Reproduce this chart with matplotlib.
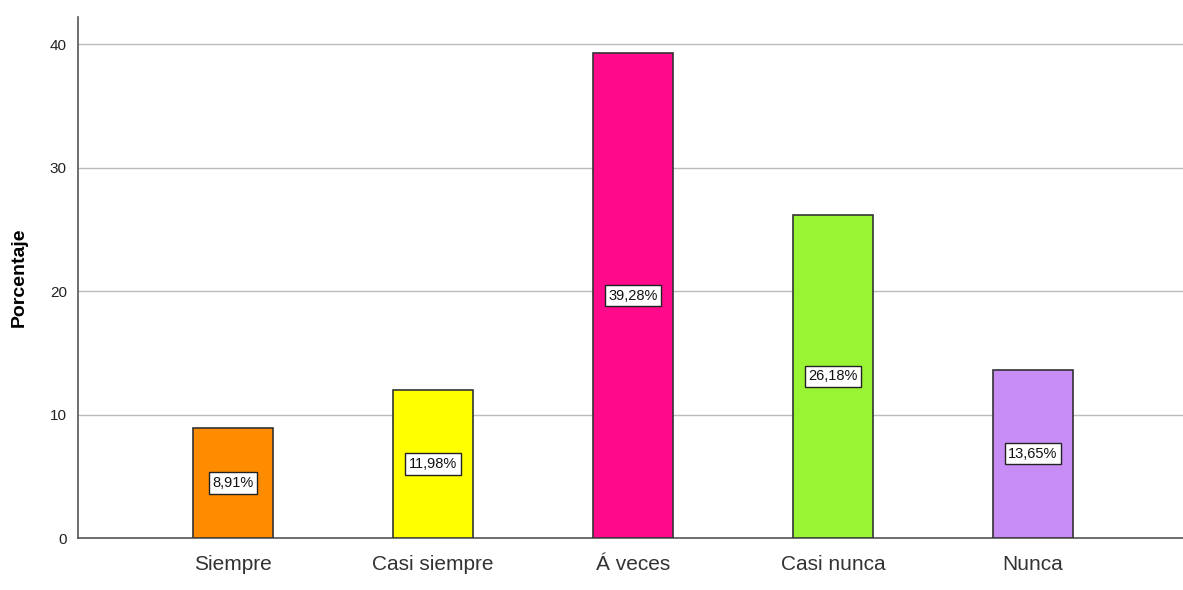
import matplotlib
matplotlib.use("Agg")
import matplotlib.pyplot as plt

categories = ["Siempre", "Casi siempre", "Á veces", "Casi nunca", "Nunca"]
values = [8.91, 11.98, 39.28, 26.18, 13.65]
labels = ["8,91%", "11,98%", "39,28%", "26,18%", "13,65%"]
colors = ["#FF8C00", "#FFFF00", "#FF0A8A", "#99F533", "#C88CF5"]
yticks = [0, 10, 20, 30, 40]

plt.rcParams['font.family'] = ['Liberation Sans', 'DejaVu Sans']

fig = plt.figure(figsize=(11.83, 5.90), dpi=100)
ax = fig.add_axes([0.0659, 0.088, 0.934, 0.883])

x = list(range(len(categories)))
ax.bar(x, values, width=0.4, color=colors, edgecolor="#333333", linewidth=1.2, zorder=3)

for xi, v, lab in zip(x, values, labels):
    ax.text(xi, v / 2, lab, ha="center", va="center", fontsize=10.5, zorder=4, color="#111111",
            bbox=dict(boxstyle="square,pad=0.25", facecolor="white", edgecolor="#222222", linewidth=1))

ax.set_xlim(-0.775, 4.75)
ax.set_ylim(0, 42.2)
ax.set_yticks(yticks)
ax.set_yticklabels([str(t) for t in yticks], fontsize=11, color="#222222")
ax.set_xticks(x)
ax.set_xticklabels(categories, fontsize=15, color="#333333")
ax.tick_params(axis="x", length=0, pad=12)
ax.tick_params(axis="y", length=0, pad=8)

ax.yaxis.grid(True, color="#BBBBBB", linewidth=1, zorder=0)
ax.set_axisbelow(True)
for s in ["top", "right"]:
    ax.spines[s].set_visible(False)
for s in ["left", "bottom"]:
    ax.spines[s].set_color("#555555")
    ax.spines[s].set_linewidth(1.2)

ax.set_ylabel("Porcentaje", fontsize=14, fontweight="bold", labelpad=16)

fig.savefig("out.png", dpi=100)
